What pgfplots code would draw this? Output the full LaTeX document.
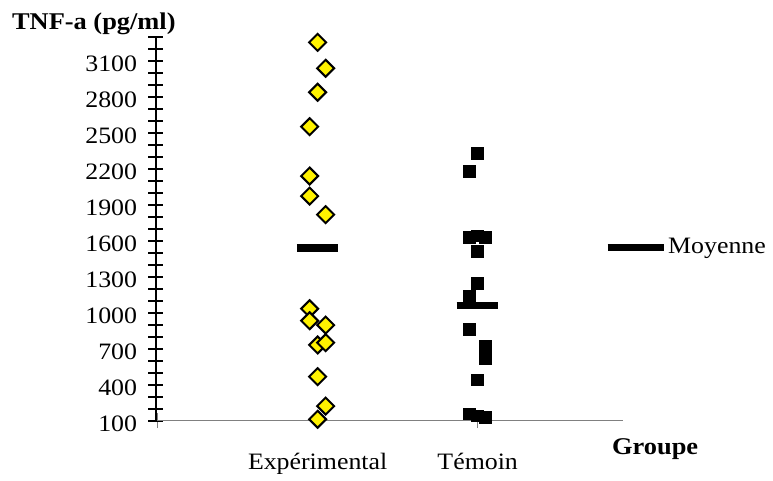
\documentclass[border=0pt]{standalone}
\usepackage{fontspec}
\setmainfont{Liberation Serif}[FakeStretch=1.1]
\usepackage{pgfplots}
\pgfplotsset{compat=1.18}
\begin{document}
\begin{tikzpicture}[font=\fontsize{11.75bp}{14bp}\selectfont]
\useasboundingbox (-78bp,-30.15bp) rectangle (308.5bp,210.35bp);
\begin{axis}[
  scale only axis,
  width=233.5bp, height=192bp,
  xmin=-0.01, xmax=2.908,
  ymin=100, ymax=3300,
  clip=false,
  axis x line*=bottom,
  axis y line*=left,
  x axis line style={draw=gray, line width=0.75bp},
  y axis line style={draw=black, line width=1bp},
  xtick={0,1,2},
  xticklabels={,Expérimental,Témoin},
  ytick={100,400,...,3100},
  minor ytick={100,200,...,3300},
  tick align=center,
  major tick length=7.5bp, minor tick length=7.5bp,
  xtick style={draw=gray, line width=0.75bp},
  ytick style={draw=black, line width=1bp},
  /pgf/number format/assume math mode=true,
  /pgf/number format/1000 sep={},
  yticklabel style={anchor=east, inner sep=0pt, xshift=-5.5bp, yshift=-1.5bp},
  xticklabel style={anchor=base, inner sep=0pt, yshift=-20.7bp},
  every axis y label/.style={at={(rel axis cs:0,1)}, anchor=base west, inner sep=0pt, xshift=-72.15bp, yshift=3.7bp},
  ylabel={\fontsize{12bp}{14bp}\selectfont\bfseries TNF-a (pg/ml)},
  every axis x label/.style={at={(rel axis cs:1,0)}, anchor=base west, inner sep=0pt, xshift=-5.65bp, yshift=-16.65bp},
  xlabel={\fontsize{12bp}{14bp}\selectfont\bfseries Groupe},
  legend style={at={(rel axis cs:0.9581,0.4518)}, anchor=west, draw=none, fill=none, inner sep=0pt, column sep=-1.5bp},
  legend image code/.code={\draw[line width=3.7bp] (0bp,0bp) -- (28bp,0bp);},
]
% Expérimental (diamonds)
\addplot[only marks, mark=square*, mark size=3bp,
  mark options={rotate=45, fill=yellow, draw=black, line width=1bp}, forget plot]
  coordinates {
  (1,3253) (1.05,3037) (1,2837) (0.95,2550) (0.95,2139) (0.95,1972) (1.05,1817)
  (0.95,1033) (0.95,933) (1.05,897) (1,731) (1.05,750) (1,467) (1.05,222) (1,112)
  };
% Témoin (squares)
\addplot[only marks, mark=square*, mark size=2.9bp,
  mark options={fill=black, draw=black, line width=0pt}, forget plot]
  coordinates {
  (2,2328) (1.95,2175) (1.95,1628) (2,1639) (2.05,1628) (2,1508) (2,1245)
  (1.95,1133) (1.95,862) (2.05,722) (2.05,620) (2,439) (1.95,156) (2,139) (2.05,125)
  };
% Means
\addplot[black, line width=3.7bp] coordinates {(0.871,1539) (1.127,1539)};
\addlegendentry{Moyenne}
\addplot[black, line width=3.7bp, forget plot] coordinates {(1.869,1058) (2.127,1058)};
\end{axis}
\end{tikzpicture}
\end{document}
